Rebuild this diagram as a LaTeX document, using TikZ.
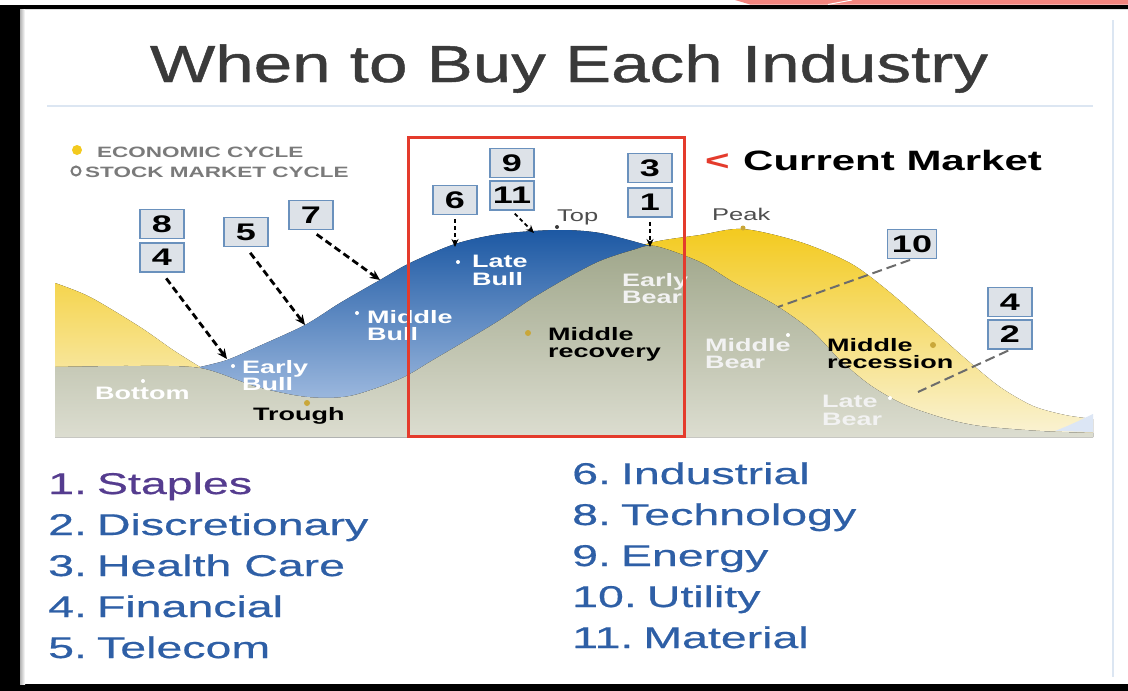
\documentclass[tikz,border=0pt]{standalone}
\usepackage{fontspec}
\setmainfont{Liberation Sans}
\newfontfamily\widefont[FakeStretch=1.5]{Liberation Sans}
\newfontfamily\listfont[FakeStretch=1.55,FakeBold=0.6]{Liberation Sans}
\newfontfamily\headfont[FakeStretch=1.33,FakeBold=0.9]{Liberation Sans}
\usetikzlibrary{positioning,arrows.meta}

\definecolor{titlegray}{HTML}{3A3A3A}
\definecolor{listblue}{HTML}{2E5FA6}
\definecolor{listpurple}{HTML}{553C8F}
\definecolor{boxfill}{HTML}{DDE2E8}
\definecolor{boxedge}{HTML}{6A91BD}
\definecolor{yellowtop}{HTML}{F3CA1E}
\definecolor{yellowbot}{HTML}{FAF3D6}
\definecolor{bluetop}{HTML}{1C58A3}
\definecolor{bluebot}{HTML}{B8CDEB}
\definecolor{graytop}{HTML}{A0A78B}
\definecolor{graybot}{HTML}{DCDDD0}
\definecolor{framered}{HTML}{E43B2C}
\definecolor{econdot}{HTML}{C9A73A}
\definecolor{rulebl}{HTML}{DCE6F2}
\definecolor{salmon}{HTML}{F2847E}
\definecolor{legendgray}{HTML}{7A7A7A}

% gap after the item numbers
\newcommand{\itemgap}{\hspace{10pt}}

\tikzset{
	numbox/.style={draw=boxedge, fill=boxfill, line width=1.5pt, minimum width=44pt, minimum height=29pt, inner sep=0pt, font=\widefont\fontsize{24}{24}\selectfont\bfseries},
	buyarrow/.style={line width=2.8pt, dash pattern=on 7pt off 4pt, -{Stealth[length=10pt,width=9pt]}, shorten <=7pt},
	shortarrow/.style={line width=1.8pt, dash pattern=on 4pt off 3pt, -{Stealth[length=8pt,width=7pt]}, shorten <=4pt},
	cycleline/.style={gray!85!black, line width=2pt, dash pattern=on 10pt off 5pt, shorten <=2pt},
	stocklabel/.style={anchor=north west, inner sep=0pt, align=left, text=white, font=\widefont\fontsize{18}{17.5}\selectfont\bfseries},
	econlabel/.style={stocklabel, text=black},
	turnlabel/.style={anchor=north west, inner sep=0pt, text=titlegray!90, font=\widefont\fontsize{17}{17}\selectfont},
	listitem/.style={anchor=base west, inner sep=0pt, text=listblue, font=\listfont\fontsize{30}{30}\selectfont},
}

\begin{document}
\begin{tikzpicture}[x=1pt,y=-1pt]
	\useasboundingbox (0,0) rectangle (1128,691);
	\fill[white] (0,0) rectangle (1128,691);

	% frame of the slide
	\fill[black] (0,5) -- (1128,5) -- (1128,9) -- (20,9) -- (20,684) -- (1128,684) -- (1128,691) -- (0,691) -- cycle;
	\fill[left color=gray!60, right color=white] (20,9) rectangle (25,684);
	\fill[salmon] (735,0) -- (1128,0) -- (1128,4.5) -- (750,4.5) -- cycle;
	\draw[white, line width=1pt] (828,4.5) -- (852,0);
	\draw[rulebl, line width=2pt] (1113,20) -- (1113,677);

	% heading
	\node[anchor=base, text=titlegray, font=\headfont\fontsize{52}{52}\selectfont] (title) at (569,82) {When to Buy Each Industry};
	\draw[rulebl, line width=2pt] (47,106) -- (1093,106);

	% economic cycle (yellow)
	\fill[top color=yellowtop, bottom color=yellowbot] (55,437) -- plot[smooth] coordinates {(55,283) (90,297) (140,327) (173,350) (200,367)} -- (420,400)
		-- plot[smooth] coordinates {(600,262) (650,243) (700,235) (743,229) (800,242) (850,263) (887,290) (933,330) (967,360) (1000,387) (1033,406) (1065,415) (1093,419)} -- (1093,437) -- cycle;

	% stock market cycle (blue)
	\fill[top color=bluetop, bottom color=bluebot] plot[smooth] coordinates {(200,367) (227,360) (257,347) (305,325) (340,303) (380,280) (410,263) (455,244) (500,234) (557,230) (600,233) (650,246)} -- (650,437) -- (200,437) -- cycle;

	% lower band (grey-green)
	\fill[top color=graytop, bottom color=graybot] (55,437) -- plot[smooth] coordinates {(55,367) (130,366) (200,368) (257,387) (307,397) (350,396) (400,379) (433,360) (467,340) (500,320) (533,298) (567,278) (600,261) (633,250) (655,246) (700,262) (733,282) (777,306) (813,332) (840,360) (870,385) (903,404) (943,418) (980,426) (1040,431) (1093,433)} -- (1093,437) -- cycle;
	\fill[bluebot!50!white] (1055,431) .. controls (1070,425) .. (1093,414) -- (1093,432) -- cycle;

	% legend
	\fill[yellowtop] (77,150) circle (5);
	\node[anchor=base west, inner sep=0pt, text=legendgray, font=\widefont\fontsize{15}{15}\selectfont\bfseries] (leg1) at (97,157) {ECONOMIC CYCLE};
	\draw[legendgray, line width=2pt] (76,171) circle (4.5);
	\node[anchor=base west, inner sep=0pt, text=legendgray, font=\widefont\fontsize{15}{15}\selectfont\bfseries] (leg2) at (85,177) {STOCK MARKET CYCLE};

	% stock market phases
	\fill[white] (143,381) circle (2);
	\node[stocklabel] (bottom) at (95,387) {Bottom};
	\fill[white] (233,366) circle (2);
	\node[stocklabel] (earlybull) at (242,360) {Early\\Bull};
	\fill[white] (357,313) circle (2);
	\node[stocklabel] (midbull) at (367,310) {Middle\\Bull};
	\fill[white] (458,262) circle (2);
	\node[stocklabel] (latebull) at (472,255) {Late\\Bull};
	\fill[titlegray] (557,227) circle (2);
	\node[turnlabel] (top) at (557,210) {Top};
	\node[stocklabel, text=white!90!gray] (earlybear) at (622,273) {Early\\Bear};
	\fill[white] (788,335) circle (2);
	\node[stocklabel, text=white!90!gray] (midbear) at (705,338) {Middle\\Bear};
	\fill[white] (890,398) circle (2);
	\node[stocklabel, text=white!90!gray] (latebear) at (822,395) {Late\\Bear};

	% economic phases
	\fill[econdot] (307,403) circle (3);
	\node[econlabel] (trough) at (253,407) {Trough};
	\fill[econdot] (528,333) circle (3);
	\node[econlabel] (midrec) at (548,327) {Middle\\recovery};
	\fill[econdot] (743,228) circle (2.5);
	\node[turnlabel] (peak) at (712,208) {Peak};
	\fill[econdot] (933,345) circle (3);
	\node[econlabel] (midrecess) at (827,338) {Middle\\recession};

	% sector boxes
	\node[numbox] (b8) at (162,224) {8};
	\node[numbox, below=3pt of b8] (b4) {4};
	\node[numbox] (b5) at (246,232) {5};
	\node[numbox] (b7) at (311,215) {7};
	\node[numbox] (b6) at (455,200) {6};
	\node[numbox] (b9) at (512,163) {9};
	\node[numbox, below=2pt of b9] (b11) {11};
	\node[numbox] (b3) at (650,168) {3};
	\node[numbox, below=4pt of b3] (b1) {1};
	\node[numbox, minimum width=49pt] (b10) at (912,244) {10};
	\node[numbox] (b4r) at (1010,302) {4};
	\node[numbox, below=2pt of b4r] (b2) {2};

	% where each sector points on the cycle
	\coordinate (t4) at (227,359);
	\coordinate (t5) at (305,325);
	\coordinate (t7) at (380,280);
	\coordinate (t6) at (455,247);
	\coordinate (t11) at (534,233);
	\coordinate (t1) at (650,247);
	\coordinate (t10) at (778,307);
	\coordinate (t2) at (918,392);

	\draw[buyarrow] (b4.south) -- (t4);
	\draw[buyarrow] (b5.south) -- (t5);
	\draw[buyarrow] (b7.south) -- (t7);
	\draw[shortarrow] (b6.south) -- (t6);
	\draw[shortarrow] (b11.south) -- (t11);
	\draw[shortarrow] (b1.south) -- (t1);
	\draw[cycleline] (b10.south) -- (t10);
	\draw[cycleline] (b2.south) -- (t2);

	% current market window
	\draw[framered, line width=3pt] (408,137) rectangle (684,436);
	\node[anchor=base west, inner sep=0pt, text=framered, font=\widefont\fontsize{28}{28}\selectfont\bfseries] (lt) at (705,170) {<};
	\node[anchor=base west, inner sep=0pt, font=\widefont\fontsize{28}{28}\selectfont\bfseries] (market) at (743,170) {Current Market};

	% sector list
	\node[listitem, text=listpurple] (s1) at (48,494) {1.\itemgap Staples};
	\node[listitem] (s2) at (48,535) {2.\itemgap Discretionary};
	\node[listitem] (s3) at (48,576) {3.\itemgap Health Care};
	\node[listitem] (s4) at (48,617) {4.\itemgap Financial};
	\node[listitem] (s5) at (48,658) {5.\itemgap Telecom};
	\node[listitem] (s6) at (572,484) {6.\itemgap Industrial};
	\node[listitem] (s8) at (572,525) {8.\itemgap Technology};
	\node[listitem] (s9) at (572,566) {9.\itemgap Energy};
	\node[listitem] (s10) at (572,607) {10.\itemgap Utility};
	\node[listitem] (s11) at (572,648) {11.\itemgap Material};
\end{tikzpicture}
\end{document}
